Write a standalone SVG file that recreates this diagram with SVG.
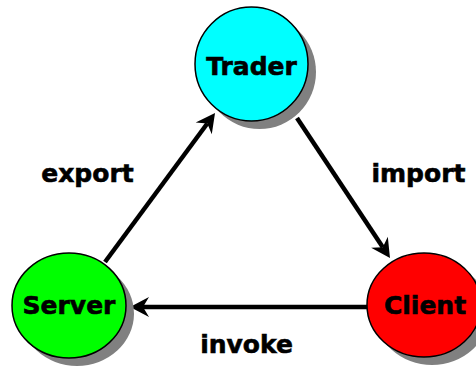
<svg xmlns="http://www.w3.org/2000/svg" width="476" height="366" viewBox="0 0 476 366">
<style>
.shadow{fill:#808080;stroke:none}
.node{stroke:#000;stroke-width:1.5}
.ntext{font-family:"DejaVu Sans","Verdana",sans-serif;font-weight:bold;font-size:25px;fill:#000;stroke:#000;stroke-width:0.6;text-anchor:middle}
.edge{stroke:#000;stroke-width:4.5;fill:none}
</style>
<defs>
<marker id="arr" viewBox="-20 -11 22 22" markerWidth="22" markerHeight="22" refX="-13" refY="0" orient="auto" markerUnits="userSpaceOnUse">
<path d="M0,0 L-19,-10 L-13,0 L-19,10 Z" fill="#000"/>
</marker>
</defs>
<rect width="476" height="366" fill="#fff"/>
<g id="connectors">
<line class="edge" x1="105" y1="262" x2="207.3" y2="123.5" marker-end="url(#arr)"/>
<line class="edge" x1="297" y1="118" x2="382.8" y2="247.2" marker-end="url(#arr)"/>
<line class="edge" x1="367" y1="307" x2="143" y2="307" marker-end="url(#arr)"/>
<text class="ntext" x="87.5" y="182">export</text>
<text class="ntext" x="418.5" y="182">import</text>
<text class="ntext" x="246.5" y="353">invoke</text>
</g>
<g id="trader">
<ellipse class="shadow" cx="259.5" cy="72" rx="56.5" ry="57"/>
<ellipse class="node" cx="251.5" cy="64" rx="56.5" ry="57" fill="#00ffff"/>
<text class="ntext" x="251.5" y="75">Trader</text>
</g>
<g id="server">
<ellipse class="shadow" cx="77" cy="313.5" rx="57" ry="52.5"/>
<ellipse class="node" cx="69" cy="305.5" rx="57" ry="52.5" fill="#00ff00"/>
<text class="ntext" x="69" y="314">Server</text>
</g>
<g id="client">
<ellipse class="shadow" cx="432" cy="313" rx="57" ry="52"/>
<ellipse class="node" cx="424" cy="305" rx="57" ry="52" fill="#ff0000"/>
<text class="ntext" x="425" y="314">Client</text>
</g>
</svg>
